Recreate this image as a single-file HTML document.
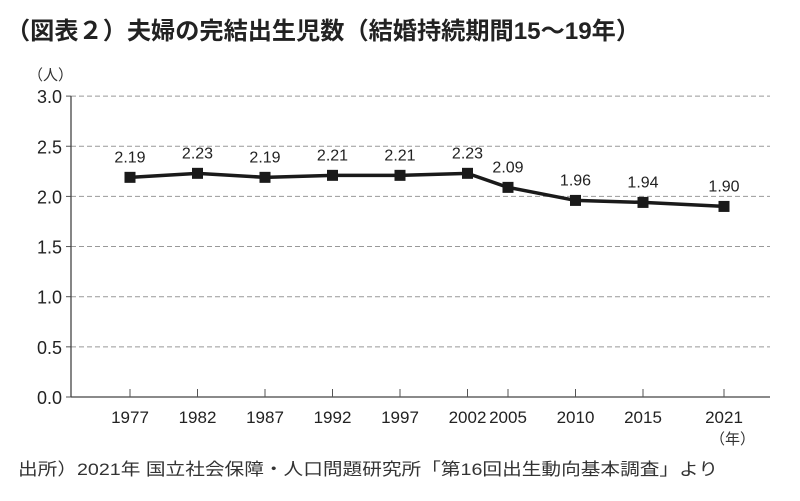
<!DOCTYPE html>
<html><head><meta charset="utf-8"><style>
body{margin:0;background:#fff;width:800px;height:496px;overflow:hidden;font-family:"Liberation Sans","Noto Sans CJK JP",sans-serif;}
</style></head><body>
<svg width="800" height="496" xmlns="http://www.w3.org/2000/svg" id="chart" style="font-family:'Liberation Sans','Noto Sans CJK JP',sans-serif">
<text x="6" y="39" font-size="24" font-weight="bold" fill="#222" textLength="634" lengthAdjust="spacingAndGlyphs">（図表２）夫婦の完結出生児数（結婚持続期間15～19年）</text>
<text x="28" y="80" font-size="15" fill="#333">（人）</text>
<text x="18" y="475" font-size="17" fill="#333" textLength="700" lengthAdjust="spacingAndGlyphs">出所）2021年 国立社会保障・人口問題研究所「第16回出生動向基本調査」より</text>
<text x="710" y="444" font-size="15" fill="#333">（年）</text>
<g id="grid"></g><g id="axes"></g><g id="marks"></g>
</svg>
<script>
const years=[1977,1982,1987,1992,1997,2002,2005,2010,2015,2021];
const values=[2.19,2.23,2.19,2.21,2.21,2.23,2.09,1.96,1.94,1.90];
const labels=["2.19","2.23","2.19","2.21","2.21","2.23","2.09","1.96","1.94","1.90"];
const yTicks=[0,0.5,1.0,1.5,2.0,2.5,3.0];
const NS="http://www.w3.org/2000/svg";
const x=v=>130+(v-1977)*13.5;
const y=v=>397-v*100.3;
function mk(t,a,p){const e=document.createElementNS(NS,t);for(const k in a)e.setAttribute(k,a[k]);p.appendChild(e);return e;}
const grid=document.getElementById('grid'),axes=document.getElementById('axes'),marks=document.getElementById('marks');
yTicks.forEach(t=>{
 if(t>0){const l=mk('line',{x1:71,x2:770,y1:y(t),y2:y(t),stroke:'#999','stroke-dasharray':'5,3','stroke-width':1},grid);
 }
 const tk=mk('line',{x1:66,x2:71,y1:y(t),y2:y(t),stroke:'#555'},axes);
 
 const tx=mk('text',{x:62,y:y(t)+7,'font-size':18,'text-anchor':'end',fill:'#222'},axes);tx.textContent=t.toFixed(1);
 
});
const ya=mk('line',{x1:71,x2:71,y1:y(3),y2:397,stroke:'#444','stroke-width':1.3},axes);

const xa=mk('line',{x1:71,x2:770,y1:397,y2:397,stroke:'#444','stroke-width':1.3},axes);

years.forEach(yr=>{
 const tk=mk('line',{x1:x(yr),x2:x(yr),y1:389,y2:397,stroke:'#555'},axes);
 
 const tx=mk('text',{x:x(yr),y:423,'font-size':17,'text-anchor':'middle',fill:'#222'},axes);tx.textContent=yr;
 
});
const pl=mk('polyline',{points:years.map((yr,i)=>x(yr)+','+y(values[i])).join(' '),fill:'none',stroke:'#1a1a1a','stroke-width':3.5},marks);

years.forEach((yr,i)=>{
 const r=mk('rect',{x:x(yr)-5.5,y:y(values[i])-5.5,width:11,height:11,fill:'#1a1a1a'},marks);
 
 const tx=mk('text',{x:x(yr),y:y(values[i])-15,'font-size':16,'text-anchor':'middle',fill:'#222'},marks);tx.textContent=labels[i];
 
});
</script>
</body></html>
